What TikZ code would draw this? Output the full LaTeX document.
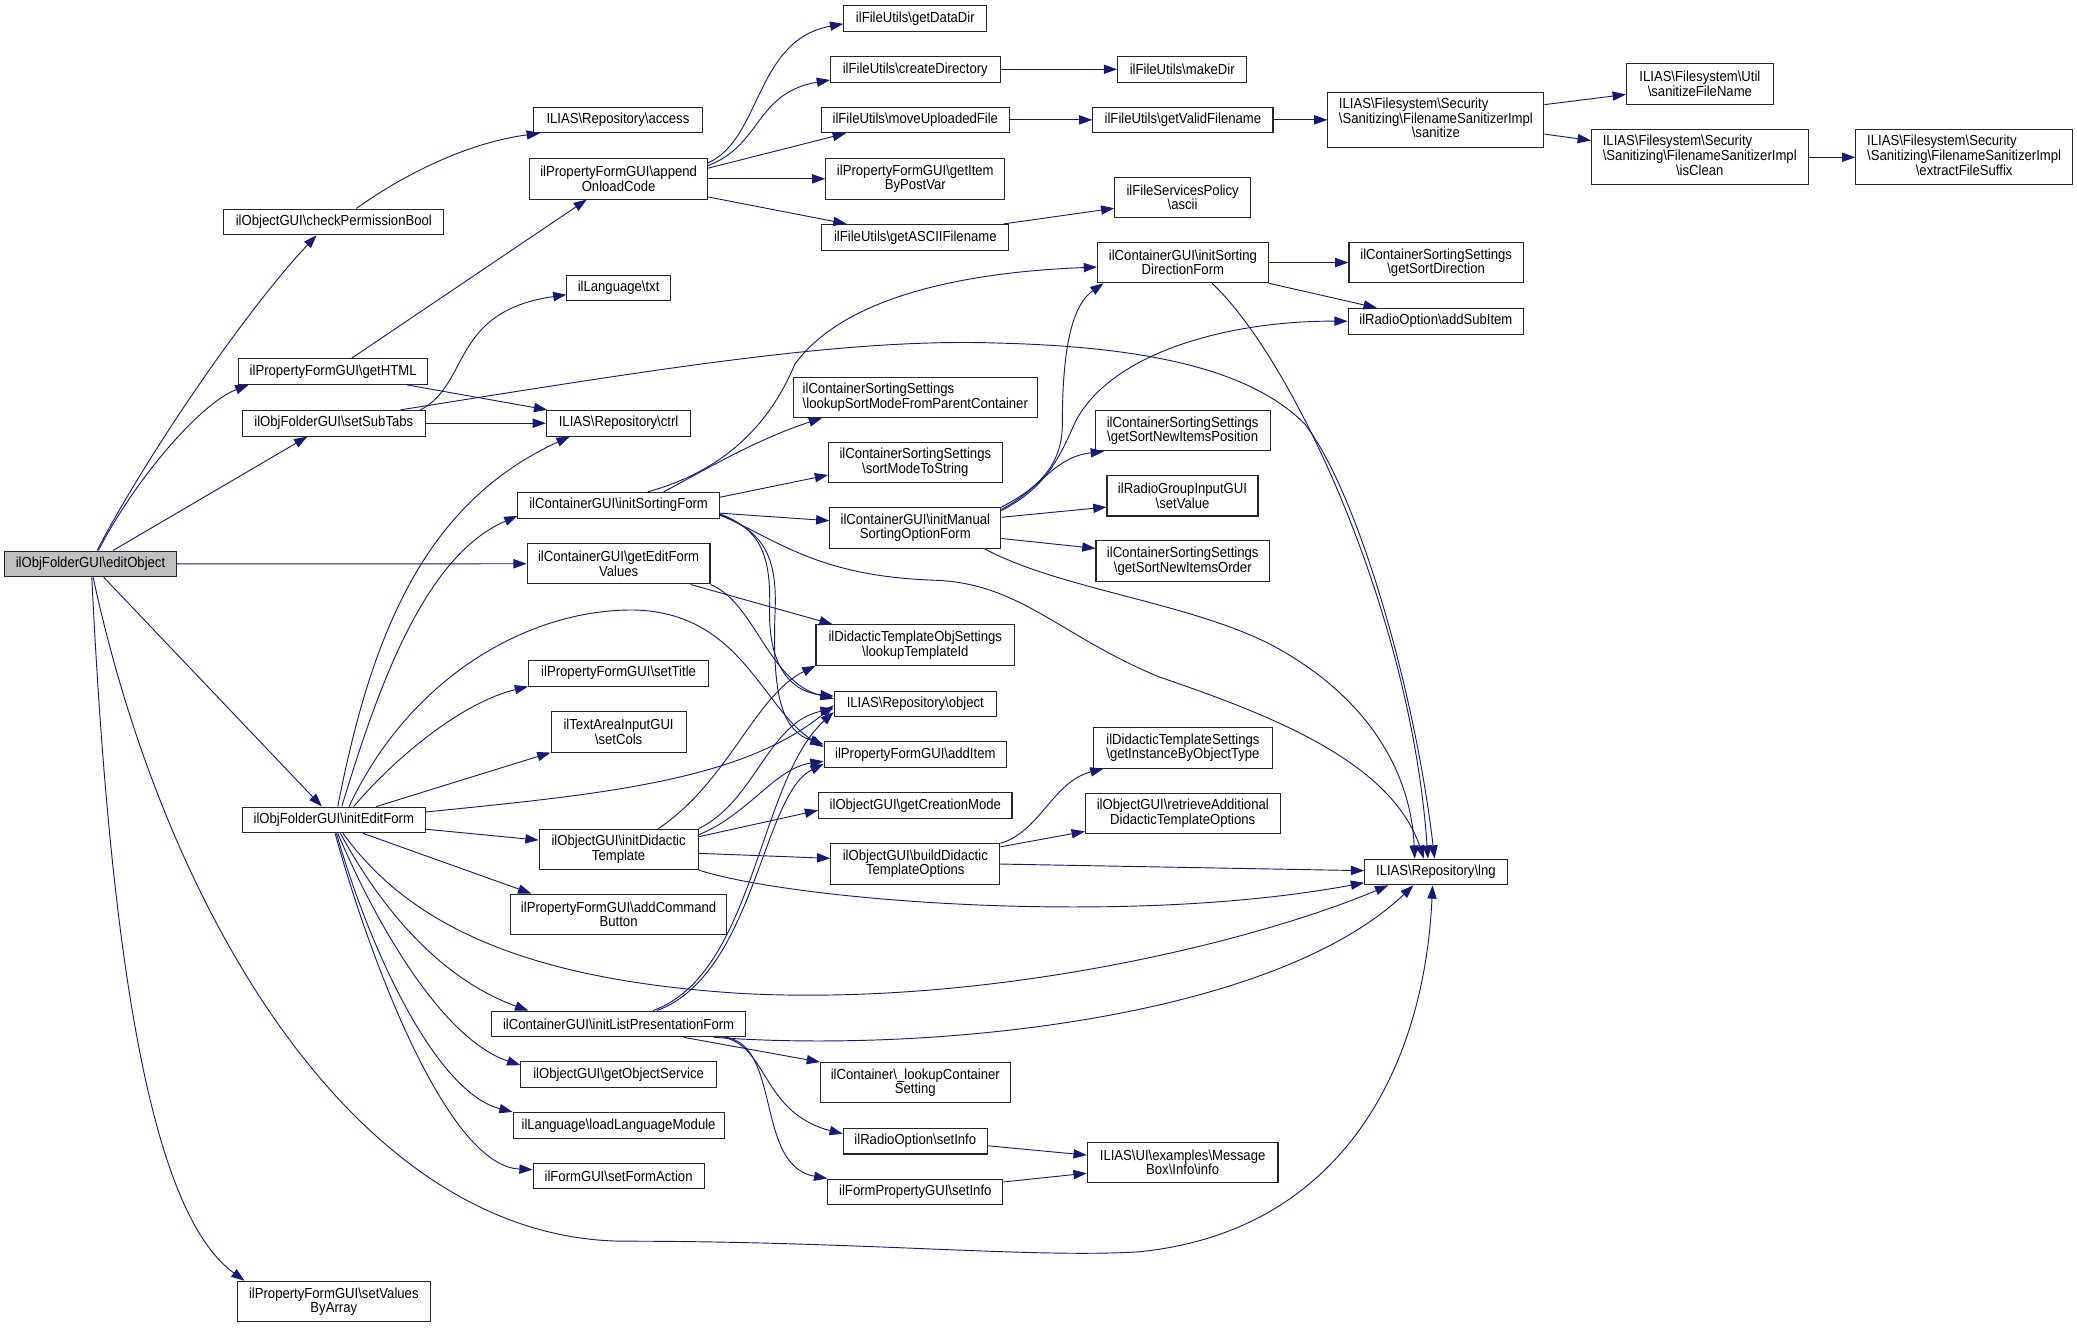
\documentclass[tikz,border=0pt]{standalone}
\usepackage{fontspec}
\setmainfont{Liberation Sans}[FakeStretch=0.9]
\usetikzlibrary{arrows.meta}
\definecolor{edgeblue}{HTML}{191970}
\definecolor{rootgray}{HTML}{BFBFBF}
\newcommand{\bsl}{\textbackslash}
\newcommand{\fsec}[1]{\begin{tabular}{@{}l@{}}ILIAS\bsl Filesystem\bsl Security\\\bsl Sanitizing\bsl FilenameSanitizerImpl\\\multicolumn{1}{@{}c@{}}{\bsl #1}\end{tabular}}
\tikzset{
  fn/.style={draw=black!85,line width=0.8pt,fill=white,rectangle,inner xsep=6pt,inner ysep=2pt,minimum height=19.4pt,align=center,font=\fontsize{11}{10.8}\selectfont},
  two/.style={minimum height=30.5pt},
  three/.style={minimum height=41.4pt},
  root/.style={fill=rootgray},
  call/.style={draw=edgeblue,line width=0.7pt,-{Triangle[length=10pt,width=7pt]}}
}
\begin{document}
\begin{tikzpicture}[x=1pt,y=-1pt]
\useasboundingbox (0,0) rectangle (1568,1002);
\node[fn,root,minimum width=129.5pt] (editObject) at (68.3,425.7) {ilObjFolderGUI\bsl editObject};
\node[fn,minimum width=166pt] (checkPerm) at (252,167.5) {ilObjectGUI\bsl checkPermissionBool};
\node[fn,minimum width=143pt] (getHTML) at (251.5,280.5) {ilPropertyFormGUI\bsl getHTML};
\node[fn,minimum width=138pt] (setSubTabs) at (252,319.5) {ilObjFolderGUI\bsl setSubTabs};
\node[fn,minimum width=138pt] (initEditForm) at (252,619) {ilObjFolderGUI\bsl initEditForm};
\node[fn,two,minimum width=146pt] (setValues) at (252,982.5) {ilPropertyFormGUI\bsl setValues\\ByArray};
\node[fn,minimum width=127pt] (access) at (466.5,90.5) {ILIAS\bsl Repository\bsl access};
\node[fn,two,minimum width=134pt] (append) at (467,135) {ilPropertyFormGUI\bsl append\\OnloadCode};
\node[fn,minimum width=78pt] (txt) at (467,217.5) {ilLanguage\bsl txt};
\node[fn,minimum width=109pt] (ctrl) at (467,319.5) {ILIAS\bsl Repository\bsl ctrl};
\node[fn,minimum width=152pt] (initSortingForm) at (467,381.4) {ilContainerGUI\bsl initSortingForm};
\node[fn,two,minimum width=138pt] (getEditFormValues) at (467,425.6) {ilContainerGUI\bsl getEditForm\\Values};
\node[fn,minimum width=136pt] (setTitle) at (467,508.2) {ilPropertyFormGUI\bsl setTitle};
\node[fn,two,minimum width=102pt] (setCols) at (467,552.5) {ilTextAreaInputGUI\\\bsl setCols};
\node[fn,two,minimum width=120pt] (initDidactic) at (467,641.2) {ilObjectGUI\bsl initDidactic\\Template};
\node[fn,two,minimum width=163pt] (addCommand) at (467,690.2) {ilPropertyFormGUI\bsl addCommand\\Button};
\node[fn,minimum width=191.5pt] (initListPres) at (467,773) {ilContainerGUI\bsl initListPresentationForm};
\node[fn,minimum width=147.5pt] (getObjectService) at (467,811.2) {ilObjectGUI\bsl getObjectService};
\node[fn,minimum width=159.3pt] (loadLang) at (467,849.5) {ilLanguage\bsl loadLanguageModule};
\node[fn,minimum width=129pt] (setFormAction) at (467,887.7) {ilFormGUI\bsl setFormAction};
\node[fn,minimum width=108pt] (getDataDir) at (691,14) {ilFileUtils\bsl getDataDir};
\node[fn,minimum width=128pt] (createDirectory) at (691,52.3) {ilFileUtils\bsl createDirectory};
\node[fn,minimum width=142pt] (moveUploaded) at (691,90.5) {ilFileUtils\bsl moveUploadedFile};
\node[fn,two,minimum width=135pt] (getItemByPostVar) at (691,135) {ilPropertyFormGUI\bsl getItem\\ByPostVar};
\node[fn,minimum width=141pt] (getASCII) at (691,179.1) {ilFileUtils\bsl getASCIIFilename};
\node[fn,two,align=left,minimum width=184pt] (lookupSortMode) at (691,299.9) {ilContainerSortingSettings\\\bsl lookupSortModeFromParentContainer};
\node[fn,two,minimum width=131pt] (sortModeToString) at (691,349) {ilContainerSortingSettings\\\bsl sortModeToString};
\node[fn,two,minimum width=129pt] (initManual) at (691,398.5) {ilContainerGUI\bsl initManual\\SortingOptionForm};
\node[fn,two,minimum width=150pt] (lookupTemplateId) at (691,487) {ilDidacticTemplateObjSettings\\\bsl lookupTemplateId};
\node[fn,minimum width=122.4pt] (object) at (691,531.5) {ILIAS\bsl Repository\bsl object};
\node[fn,minimum width=137.7pt] (addItem) at (691,569.7) {ilPropertyFormGUI\bsl addItem};
\node[fn,minimum width=146pt] (getCreationMode) at (691,608.2) {ilObjectGUI\bsl getCreationMode};
\node[fn,two,minimum width=127.6pt] (buildDidactic) at (691,652.3) {ilObjectGUI\bsl buildDidactic\\TemplateOptions};
\node[fn,two,minimum width=143.2pt] (lookupContainerSetting) at (691,817.4) {ilContainer\bsl\_lookupContainer\\Setting};
\node[fn,minimum width=108.8pt] (radioSetInfo) at (691,861.5) {ilRadioOption\bsl setInfo};
\node[fn,minimum width=132.1pt] (formPropSetInfo) at (691,899.8) {ilFormPropertyGUI\bsl setInfo};
\node[fn,minimum width=97.7pt] (makeDir) at (892.5,52.3) {ilFileUtils\bsl makeDir};
\node[fn,minimum width=136pt] (getValidFilename) at (893,90.5) {ilFileUtils\bsl getValidFilename};
\node[fn,two,minimum width=102.3pt] (ascii) at (892.8,148.9) {ilFileServicesPolicy\\\bsl ascii};
\node[fn,two,minimum width=129pt] (initSortingDirection) at (893,198.2) {ilContainerGUI\bsl initSorting\\DirectionForm};
\node[fn,two,minimum width=132pt] (getSortNewItemsPosition) at (892.8,325.1) {ilContainerSortingSettings\\\bsl getSortNewItemsPosition};
\node[fn,two,minimum width=114pt] (setValue) at (892.7,374.3) {ilRadioGroupInputGUI\\\bsl setValue};
\node[fn,two,minimum width=131pt] (getSortNewItemsOrder) at (892.9,423.6) {ilContainerSortingSettings\\\bsl getSortNewItemsOrder};
\node[fn,two,minimum width=135pt] (getInstance) at (893,564.6) {ilDidacticTemplateSettings\\\bsl getInstanceByObjectType};
\node[fn,two,minimum width=147pt] (retrieveAdditional) at (892.9,614) {ilObjectGUI\bsl retrieveAdditional\\DidacticTemplateOptions};
\node[fn,two,minimum width=144pt] (messageBox) at (892.8,877.7) {ILIAS\bsl UI\bsl examples\bsl Message\\Box\bsl Info\bsl info};
\node[fn,three,minimum width=163pt] (sanitize) at (1084,90.5) {\fsec{sanitize}};
\node[fn,two,minimum width=131.6pt] (getSortDirection) at (1084.2,198.2) {ilContainerSortingSettings\\\bsl getSortDirection};
\node[fn,minimum width=132.5pt] (addSubItem) at (1084,242.5) {ilRadioOption\bsl addSubItem};
\node[fn,minimum width=107.6pt] (lng) at (1084,658.3) {ILIAS\bsl Repository\bsl lng};
\node[fn,two,minimum width=111pt] (sanitizeFileName) at (1283.3,63.3) {ILIAS\bsl Filesystem\bsl Util\\\bsl sanitizeFileName};
\node[fn,three,minimum width=163.6pt] (isClean) at (1283.2,118.7) {\fsec{isClean}};
\node[fn,three,minimum width=163.6pt] (extractFileSuffix) at (1482.8,118.7) {\fsec{extractFileSuffix}};
\draw[call] ([xshift=5pt]editObject.north) .. controls (110,345) and (185,235) .. ([xshift=-13pt]checkPerm.south);
\draw[call] ([xshift=6pt]editObject.north) .. controls (100,365) and (150,305) .. ([xshift=8pt]getHTML.south west);
\draw[call] ([xshift=17pt]editObject.north) -- ([xshift=-20pt]setSubTabs.south);
\draw[call] (editObject.east) -- (getEditFormValues.west);
\draw[call] ([xshift=10pt]editObject.south) -- ([xshift=-9pt]initEditForm.north);
\draw[call] ([xshift=1pt]editObject.south) .. controls (85,760) and (120,920) .. ([xshift=6pt]setValues.north west);
\draw[call] ([xshift=2pt]editObject.south) .. controls (125,690) and (270,935) .. (470,937) .. controls (650,937) and (780,950) .. (860,945) .. controls (1010,930) and (1075,810) .. ([xshift=-2.5pt]lng.south);
\draw[call] ([xshift=17pt]checkPerm.north) .. controls (300,135) and (350,108) .. ([xshift=5pt]access.south west);
\draw[call] ([xshift=14pt]getHTML.north) -- ([xshift=-24pt]append.south);
\draw[call] ([xshift=-16pt]getHTML.south east) -- ([xshift=1pt]ctrl.north west);
\draw[call] ([xshift=-4pt]setSubTabs.north east) .. controls (355,290) and (340,235) .. ([yshift=-5pt]txt.west);
\draw[call] (setSubTabs.east) -- (ctrl.west);
\draw[call] ([xshift=-19pt]setSubTabs.north east) .. controls (500,278) and (640,255) .. (754,259) .. controls (870,262) and (945,280) .. (985,320) .. controls (1025,372) and (1068,520) .. ([xshift=-1pt]lng.north);
\draw[call] ([yshift=12pt]append.east) .. controls (575,105) and (570,30) .. ([yshift=-4pt]getDataDir.west);
\draw[call] ([yshift=10pt]append.east) .. controls (575,110) and (570,70) .. ([yshift=2pt]createDirectory.south west);
\draw[call] ([yshift=8pt]append.east) -- ([xshift=19pt]moveUploaded.south west);
\draw[call] (append.east) -- (getItemByPostVar.west);
\draw[call] ([yshift=2pt]append.south east) -- ([xshift=19pt]getASCII.north west);
\draw[call] (createDirectory.east) -- (makeDir.west);
\draw[call] (moveUploaded.east) -- (getValidFilename.west);
\draw[call] (getValidFilename.east) -- (sanitize.west);
\draw[call] ([yshift=11.5pt]sanitize.east) -- ([yshift=-8pt]sanitizeFileName.west);
\draw[call] ([yshift=-10.75pt]sanitize.east) -- ([yshift=12.7pt]isClean.west);
\draw[call] (isClean.east) -- (extractFileSuffix.west);
\draw[call] ([xshift=-4pt]getASCII.north east) -- ([yshift=-8.3pt]ascii.west);
\draw[call] ([xshift=3pt]initEditForm.north) .. controls (280,480) and (320,380) .. ([xshift=18pt]ctrl.south west);
\draw[call] ([xshift=6pt]initEditForm.north) .. controls (285,520) and (320,420) .. ([yshift=2pt]initSortingForm.south west);
\draw[call] ([xshift=11.5pt]initEditForm.north) .. controls (310,510) and (400,460) .. (478,460.5) .. controls (560,462) and (575,535) .. ([yshift=5.7pt]addItem.west);
\draw[call] ([xshift=15pt]initEditForm.north) .. controls (300,570) and (350,530) .. (setTitle.south west);
\draw[call] ([xshift=32pt]initEditForm.north) -- (setCols.south west);
\draw[call] ([yshift=6pt]initEditForm.east) .. controls (450,600) and (560,590) .. ([yshift=-1pt]object.west);
\draw[call] ([yshift=-7pt]initEditForm.east) -- ([yshift=7pt]initDidactic.west);
\draw[call] ([xshift=22pt]initEditForm.south) -- ([xshift=16pt]addCommand.north west);
\draw[call] ([xshift=5pt]initEditForm.south) .. controls (290,690) and (335,740) .. ([xshift=28pt]initListPres.north west);
\draw[call] ([xshift=3pt]initEditForm.south) .. controls (285,700) and (335,785) .. ([yshift=-3pt]getObjectService.north west);
\draw[call] ([xshift=2pt]initEditForm.south) .. controls (280,720) and (330,825) .. (loadLang.north west);
\draw[call] ([xshift=1pt]initEditForm.south) .. controls (275,710) and (335,880) .. ([yshift=4.7pt]setFormAction.west);
\draw[call] ([xshift=7pt]initEditForm.south) .. controls (310,700) and (400,740) .. (560,750) .. controls (750,760) and (950,710) .. ([xshift=-36pt]lng.south);
\draw[call] ([xshift=30pt]initDidactic.north) .. controls (550,590) and (570,525) .. (lookupTemplateId.south west);
\draw[call] (initDidactic.north east) .. controls (570,605) and (580,545) .. ([yshift=-3.5pt]object.west);
\draw[call] ([yshift=11pt]initDidactic.east) .. controls (565,615) and (585,580) .. ([yshift=-5pt]addItem.west);
\draw[call] ([yshift=9.5pt]initDidactic.east) -- ([yshift=-3.5pt]getCreationMode.west);
\draw[call] ([yshift=-3pt]initDidactic.east) -- ([yshift=4.3pt]buildDidactic.west);
\draw[call] (initDidactic.south east) .. controls (600,680) and (850,700) .. ([yshift=2pt]lng.south west);
\draw[call] ([xshift=-15pt]getEditFormValues.south east) -- ([xshift=13pt]lookupTemplateId.north west);
\draw[call] (getEditFormValues.south east) .. controls (570,455) and (580,515) .. ([yshift=4pt]object.west);
\draw[call] ([xshift=34pt]initSortingForm.north) .. controls (530,356) and (570,332) .. ([xshift=22pt]lookupSortMode.south west);
\draw[call] ([xshift=22pt]initSortingForm.north) .. controls (530,360) and (575,335) .. (600,275) .. controls (640,220) and (740,205) .. ([yshift=-3.4pt]initSortingDirection.west);
\draw[call] ([yshift=6pt]initSortingForm.east) -- ([yshift=-9.6pt]sortModeToString.west);
\draw[call] ([yshift=-6pt]initSortingForm.east) -- ([yshift=5.4pt]initManual.west);
\draw[call] ([yshift=-7pt]initSortingForm.east) .. controls (590,410) and (620,435) .. (705,438) .. controls (770,440) and (800,480) .. (875,511) .. controls (960,540) and (1050,575) .. ([xshift=-9pt]lng.north);
\draw[call] ([yshift=-6.5pt]initSortingForm.east) .. controls (575,400) and (582,420) .. (581,460) .. controls (580,500) and (595,522) .. ([yshift=6pt]object.west);
\draw[call] ([yshift=-7.5pt]initSortingForm.east) .. controls (580,402) and (587,425) .. (585,465) .. controls (583,530) and (592,552) .. ([yshift=7.7pt]addItem.west);
\draw[call] (initSortingDirection.east) -- (getSortDirection.west);
\draw[call] (initSortingDirection.south east) -- ([xshift=22pt]addSubItem.north west);
\draw[call] ([xshift=22pt]initSortingDirection.south) .. controls (975,270) and (1065,460) .. ([xshift=-6pt]lng.north);
\draw[call] ([yshift=8pt]initManual.east) -- ([yshift=-8.5pt]setValue.west);
\draw[call] ([yshift=-8pt]initManual.east) -- ([yshift=9.6pt]getSortNewItemsOrder.west);
\draw[call] ([yshift=14pt]initManual.east) .. controls (785,370) and (795,345) .. ([xshift=7pt]getSortNewItemsPosition.south west);
\draw[call] (initManual.north east) .. controls (785,368) and (802,350) .. (802,320) .. controls (802,260) and (810,230) .. ([xshift=5pt]initSortingDirection.south west);
\draw[call] ([yshift=13pt]initManual.east) .. controls (790,368) and (800,345) .. (812,318) .. controls (840,265) and (930,242) .. (addSubItem.west);
\draw[call] ([xshift=52pt]initManual.south) .. controls (800,445) and (900,455) .. (962,488) .. controls (1030,525) and (1065,580) .. ([xshift=-16pt]lng.north);
\draw[call] (buildDidactic.north east) .. controls (785,628) and (795,590) .. ([xshift=8pt]getInstance.south west);
\draw[call] ([yshift=13pt]buildDidactic.east) -- ([yshift=2pt]retrieveAdditional.south west);
\draw[call] (buildDidactic.east) -- ([yshift=1pt]lng.west);
\draw[call] ([xshift=26pt]initListPres.north) .. controls (570,735) and (572,590) .. ([yshift=-6pt]object.west);
\draw[call] ([xshift=29pt]initListPres.north) .. controls (570,735) and (575,600) .. ([yshift=-7pt]addItem.west);
\draw[call] ([xshift=-24pt]initListPres.south east) .. controls (700,795) and (960,770) .. ([xshift=-17pt]lng.south);
\draw[call] ([xshift=-47pt]initListPres.south east) -- (lookupContainerSetting.north west);
\draw[call] ([xshift=-17pt]initListPres.south east) .. controls (580,790) and (575,840) .. ([yshift=5.5pt]radioSetInfo.west);
\draw[call] ([xshift=-15pt]initListPres.south east) .. controls (590,790) and (570,880) .. (formPropSetInfo.north west);
\draw[call] ([yshift=-3.5pt]radioSetInfo.east) -- ([yshift=5.7pt]messageBox.west);
\draw[call] ([yshift=7.5pt]formPropSetInfo.east) -- ([yshift=-8pt]messageBox.west);
\end{tikzpicture}
\end{document}
